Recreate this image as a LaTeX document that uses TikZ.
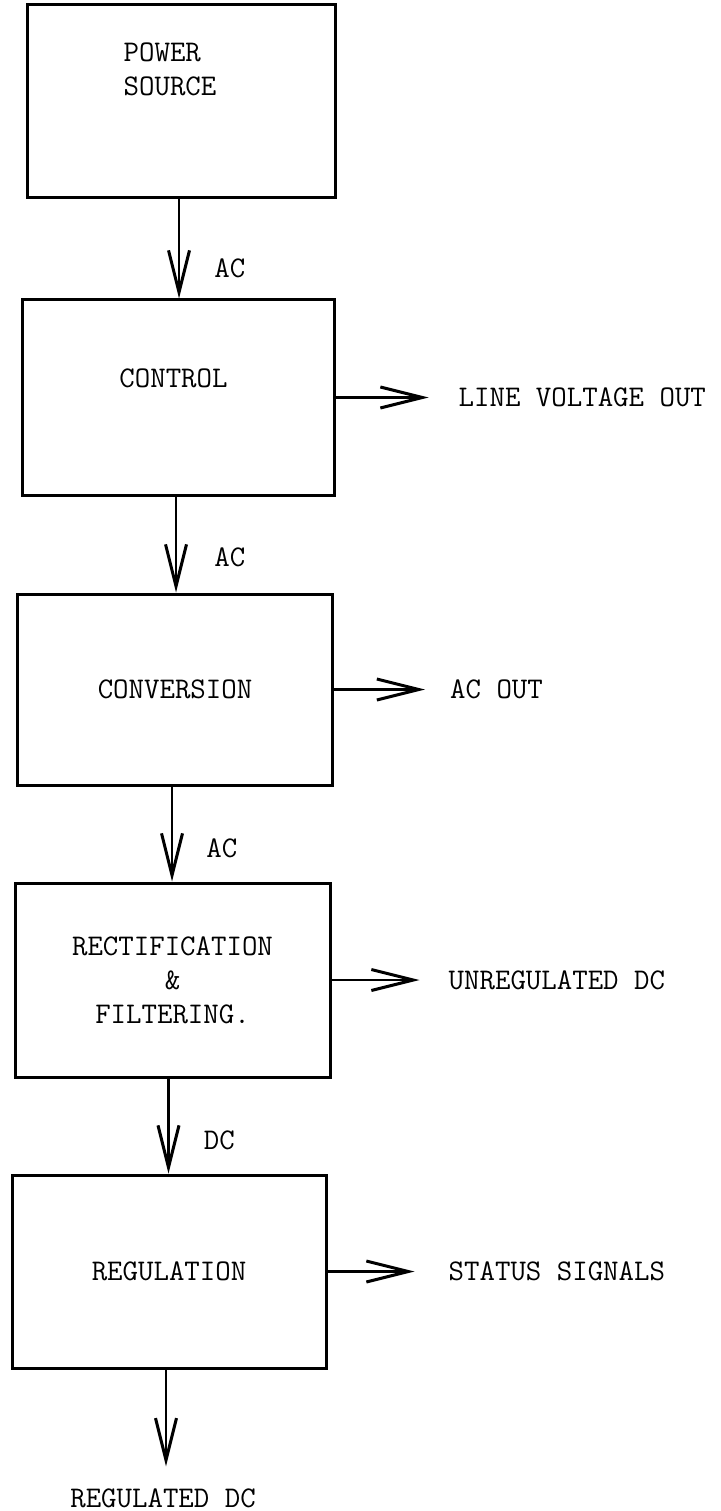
\documentclass[tikz,border=0pt]{standalone}
\usepackage{fontspec}
\usepackage{tikz}
\usetikzlibrary{arrows.meta, positioning}
\newcommand{\twfont}{\ttfamily\fontsize{30}{34}\selectfont}
\tikzset{
  blockbox/.style={rectangle, draw=black, line width=3pt,
    minimum width=312pt, minimum height=194pt, inner sep=0pt,
    font=\twfont, align=center},
  boxtext/.style={inner sep=0pt, font=\twfont, align=left},
  outtext/.style={inner sep=0pt, font=\twfont},
  flowlbl/.style={inner sep=0pt, font=\twfont},
  arrow/.style={-{Straight Barb[length=42pt, width=21pt, line width=3pt]},
    line width=2.6pt, color=black}
}

\begin{document}
\begin{tikzpicture}[x=1pt, y=-1pt]
  \useasboundingbox (0,0) rectangle (720,1511);

  % Blocks
  \node[blockbox, minimum width=308pt, minimum height=193pt,
    label={[boxtext, xshift=-11pt, yshift=32.5pt]center:POWER\\SOURCE}] (power) at (181,101.5) {};
  \node[blockbox, minimum height=195pt,
    label={[boxtext, xshift=-4.5pt, yshift=19.5pt]center:CONTROL}] (control) at (178,397.5) {};
  \node[blockbox, minimum width=315pt, minimum height=191pt] (conv) at (175,689.5) {CONVERSION};
  \node[blockbox, minimum width=315pt] (rect) at (172.5,980) {RECTIFICATION\\\&\\FILTERING.};
  \node[blockbox, minimum width=314pt, minimum height=193pt] (reg) at (169,1271.5) {REGULATION};

  % Outputs
  \node[outtext, right=123pt of control] (lvout) {LINE VOLTAGE OUT};
  \node[outtext, right=116pt of conv] (acout) {AC OUT};
  \node[outtext, right=117pt of rect] (udc) {UNREGULATED DC};
  \node[outtext, right=121pt of reg] (status) {STATUS SIGNALS};
  \node[outtext] (regdc) at (163,1498) {REGULATED DC};

  % Main chain
  \draw[arrow] ([xshift=-2pt]power.south) -- node[flowlbl, pos=0.7, right=34pt] {AC} ([xshift=-2pt]power.south |- control.north);
  \draw[arrow] ([xshift=-2pt]control.south) -- node[flowlbl, pos=0.63, right=37pt] {AC} ([xshift=-2pt]control.south |- conv.north);
  \draw[arrow] ([xshift=-3pt]conv.south) -- node[flowlbl, pos=0.65, right=33pt] {AC} ([xshift=-3pt]conv.south |- rect.north);
  \draw[arrow] ([xshift=-4pt]rect.south) -- node[flowlbl, pos=0.65, right=34pt] {DC} ([xshift=-4pt]rect.south |- reg.north);
  \draw[arrow, shorten >=22pt] ([xshift=-3pt]reg.south) -- ([xshift=-3pt]reg.south |- regdc.north);

  % Side outputs
  \draw[arrow, shorten >=30pt] (control.east) -- (lvout.west);
  \draw[arrow, shorten >=25pt] (conv.east) -- (acout.west);
  \draw[arrow, shorten >=29pt] (rect.east) -- (udc.west);
  \draw[arrow, shorten >=34pt] (reg.east) -- (status.west);
\end{tikzpicture}
\end{document}
